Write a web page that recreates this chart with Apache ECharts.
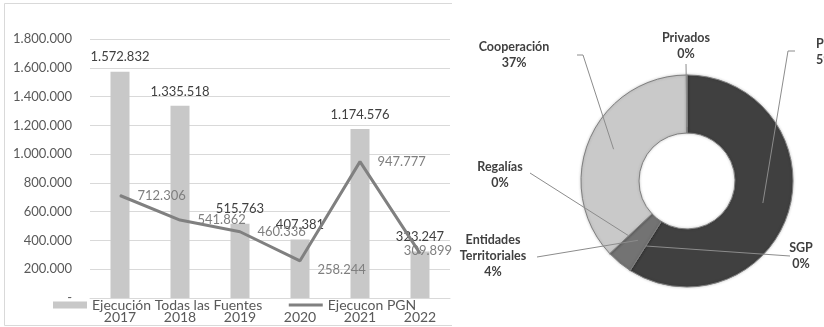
<!DOCTYPE html>
<html><head><meta charset="utf-8">
<script src="https://cdn.jsdelivr.net/npm/echarts@6/dist/echarts.min.js"></script>
<style>html,body{margin:0;padding:0;background:#fff}#c{width:824px;height:327px}</style>
</head><body><div id="c"></div>
<script>
// ---- data ----
const years = ['2017', '2018', '2019', '2020', '2021', '2022'];
const todasFuentes = [1572832, 1335518, 515763, 407381, 1174576, 323247];
const ejecucionPGN = [712306, 541862, 460336, 258244, 947777, 309899];
const barSeriesName = 'Ejecución Todas las Fuentes';
const lineSeriesName = 'Ejecucon PGN';
const yMin = 0, yMax = 1800000, yStep = 200000;
const pieNames = ['PGN', 'SGP', 'Entidades\nTerritoriales', 'Regalías', 'Cooperación', 'Privados'];
const pieValues = [59, 0, 4, 0, 37, 0];
const pieColors = ['#404040', '#595959', '#737373', '#8c8c8c', '#c9c9c9', '#a6a6a6'];

// ---- helpers ----
const FONT = 'Lato';
function fmt(v) { return String(v).replace(/\B(?=(\d{3})+(?!\d))/g, '.'); }

const PIE_CX = 687, PIE_CY = 181, PIE_R0 = 48, PIE_R1 = 106;
const pieTotal = pieValues.reduce((a, b) => a + b, 0);
function ringPoint(i, r) {
  let start = 0;
  for (let k = 0; k < i; k++) start += pieValues[k];
  const mid = start + pieValues[i] / 2;
  const a = mid / pieTotal * Math.PI * 2;
  return [PIE_CX + r * Math.sin(a), PIE_CY - r * Math.cos(a)];
}
// label placement (x, y, align), leader line radius & outer points
const pieLabelLayout = [
  { x: 816, y: 52, align: 'left', r: 79, pts: [[788, 51], [795, 51]] },
  { x: 801, y: 256, align: 'center', r: 77, pts: [[790, 256]] },
  { x: 493, y: 256, align: 'center', r: 77, pts: [[537, 257]] },
  { x: 500, y: 175, align: 'center', r: 80, pts: [[530, 173]] },
  { x: 514, y: 55, align: 'center', r: 80, pts: [[583, 55], [577, 55]] },
  { x: 686, y: 46, align: 'center', r: 54, pts: [[686, 64]] }
];
const leaderLines = pieLabelLayout.map((L, i) => ({
  type: 'polyline', silent: true, z: 100,
  shape: { points: [ringPoint(i, L.r)].concat(L.pts) },
  style: { stroke: '#8c8c8c', lineWidth: 1, fill: null }
}));

const lineLabelTweak = { 3: { offset: [0, 9] }, 5: { position: 'inside', offset: [8, -3] } };

const chart = echarts.init(document.getElementById('c'), null, { renderer: 'canvas' });
chart.setOption({
  animation: false,
  backgroundColor: '#fff',
  textStyle: { fontFamily: FONT },
  graphic: [{
    type: 'polyline', silent: true, z: -1,
    shape: { points: [[452, 3.5], [4.5, 3.5], [4.5, 325.5], [452, 325.5]] },
    style: { stroke: '#d9d9d9', lineWidth: 1, fill: null }
  }].concat(leaderLines),
  grid: { left: 90, right: 374, top: 39, bottom: 29 },
  legend: {
    left: 53, top: 298, padding: 0, itemGap: 25, itemWidth: 34, itemHeight: 7,
    textStyle: { fontFamily: FONT, fontSize: 14, color: '#595959' },
    data: [
      { name: barSeriesName, icon: 'rect' },
      { name: lineSeriesName, itemStyle: { opacity: 0 }, lineStyle: { width: 3, color: '#808080' } }
    ]
  },
  xAxis: {
    type: 'category', data: years,
    axisTick: { show: false },
    axisLine: { lineStyle: { color: '#d9d9d9' } },
    axisLabel: { fontFamily: FONT, fontSize: 14, color: '#595959', margin: 12 }
  },
  yAxis: {
    type: 'value', min: yMin, max: yMax, interval: yStep,
    axisLine: { show: false }, axisTick: { show: false },
    splitLine: { lineStyle: { color: '#d9d9d9' } },
    axisLabel: { fontFamily: FONT, fontSize: 13, color: '#595959', margin: 18,
      formatter: v => v === 0 ? '-' : fmt(v) }
  },
  series: [
    {
      name: barSeriesName, type: 'bar', data: todasFuentes, barWidth: 19,
      itemStyle: { color: '#c8c8c8' },
      label: { show: true, position: 'top', distance: 8, fontFamily: FONT, fontSize: 13,
        color: '#404040', formatter: p => fmt(p.value) }
    },
    {
      name: lineSeriesName, type: 'line', symbol: 'circle', symbolSize: 1, showSymbol: true, z: 3,
      data: ejecucionPGN.map((v, i) => Object.assign({ value: v }, lineLabelTweak[i] ? { label: lineLabelTweak[i] } : {})),
      lineStyle: { color: '#808080', width: 3 }, itemStyle: { color: '#808080' },
      label: { show: true, position: 'right', distance: 17, fontFamily: FONT, fontSize: 13,
        color: '#7f7f7f', formatter: p => fmt(p.value) }
    },
    {
      type: 'pie', center: [PIE_CX, PIE_CY], radius: [PIE_R0, PIE_R1],
      startAngle: 90, clockwise: true, avoidLabelOverlap: false,
      data: pieNames.map((n, i) => ({ name: n, value: pieValues[i], itemStyle: { color: pieColors[i] } })),
      itemStyle: { borderColor: '#7f7f7f', borderWidth: 1, shadowBlur: 3, shadowColor: 'rgba(0,0,0,0.2)' },
      label: { show: true, formatter: '{b}\n{d}%', fontFamily: FONT, fontSize: 12.5, fontWeight: 'bold',
        lineHeight: 16, color: '#404040' },
      labelLine: { show: false },
      emphasis: { disabled: true },
      labelLayout: function (params) {
        const L = pieLabelLayout[params.dataIndex];
        return { x: L.x, y: L.y, align: L.align, verticalAlign: 'middle' };
      }
    }
  ]
});
</script></body></html>
